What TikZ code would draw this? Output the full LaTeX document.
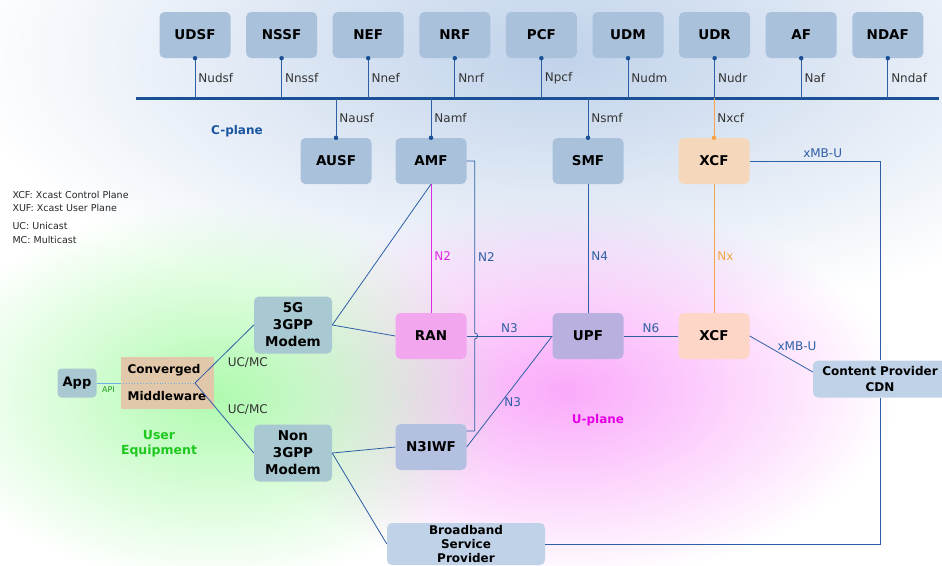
\documentclass[tikz,border=0pt]{standalone}
\usepackage{fontspec}
\setmainfont{DejaVu Sans}
\usepackage{tikz}
\usepackage{xcolor}
\usetikzlibrary{fadings}
\tikzfading[name=blobfade, inner color=transparent!0, outer color=transparent!100]
\definecolor{nfblue}{RGB}{170,193,220}
\definecolor{xcfctl}{RGB}{245,216,188}
\definecolor{xcfusr}{RGB}{253,214,200}
\definecolor{ranpink}{RGB}{242,166,238}
\definecolor{upfviolet}{RGB}{186,176,224}
\definecolor{iwfblue}{RGB}{180,192,224}
\definecolor{modemteal}{RGB}{168,200,210}
\definecolor{cdnblue}{RGB}{192,210,232}
\definecolor{mwtan}{RGB}{226,200,170}
\definecolor{ifblue}{RGB}{45,95,165}
\definecolor{busblue}{RGB}{25,80,150}
\definecolor{apiblue}{RGB}{110,175,225}
\definecolor{xorange}{RGB}{245,165,70}
\definecolor{n2pink}{RGB}{225,40,225}
\definecolor{uegreen}{RGB}{30,200,30}
\definecolor{cplane}{RGB}{25,85,160}
\definecolor{uplane}{RGB}{230,0,230}
\definecolor{bgblue}{RGB}{192,210,234}
\definecolor{bggreen}{RGB}{175,250,175}
\definecolor{bgpink}{RGB}{250,170,250}
\newcommand{\boxfont}{\fontsize{13.5}{17}\selectfont\bfseries}
\newcommand{\smallboxfont}{\fontsize{12}{14}\selectfont\bfseries}
\newcommand{\lblfont}{\fontsize{12}{14}\selectfont}
\newcommand{\legfont}{\fontsize{9.5}{13}\selectfont}
\tikzstyle{nf} = [rectangle,
                  rounded corners=5pt,
                  minimum width=71pt,
                  minimum height=46pt,
                  text centered,
                  fill=nfblue,
                  font=\boxfont]
\tikzstyle{modem} = [nf,
                     minimum width=78pt,
                     minimum height=57pt,
                     align=center,
                     fill=modemteal]
\tikzstyle{provider} = [nf,
                        align=center,
                        inner sep=1pt,
                        fill=cdnblue]
\tikzstyle{iface} = [draw=ifblue,
                     line width=0.8pt]
\tikzstyle{bus} = [draw=busblue,
                   line width=3pt]
\tikzstyle{stem} = [draw=ifblue,
                    line width=0.9pt]
\tikzstyle{dot} = [circle,
                   fill=busblue,
                   inner sep=0pt,
                   minimum size=4.5pt]
\tikzstyle{lbl} = [font=\lblfont,
                   text=black!80,
                   inner sep=3pt]
\tikzstyle{iflbl} = [lbl,
                     text=ifblue]
\begin{document}
\begin{tikzpicture}[node distance=86.6pt, x=1pt, y=-1pt]
    \useasboundingbox (0,0) rectangle (942,565);

    % background planes
    \fill [bgblue, path fading=blobfade] (560,55) ellipse [x radius=600pt, y radius=270pt];
    \fill [bgpink, path fading=blobfade] (565,390) ellipse [x radius=330pt, y radius=190pt];
    \fill [bggreen, path fading=blobfade] (215,395) ellipse [x radius=290pt, y radius=190pt];

    \node (udsf) [nf] at (195,35)   {UDSF};
    \node (nssf) [nf, right of=udsf] {NSSF};
    \node (nef)  [nf, right of=nssf] {NEF};
    \node (nrf)  [nf, right of=nef]  {NRF};
    \node (pcf)  [nf, right of=nrf]  {PCF};
    \node (udm)  [nf, right of=pcf]  {UDM};
    \node (udr)  [nf, right of=udm]  {UDR};
    \node (af)   [nf, right of=udr]  {AF};
    \node (ndaf) [nf, right of=af]   {NDAF};

    \node (ausf) [nf]                at (336,161) {AUSF};
    \node (amf)  [nf]                at (431,161) {AMF};
    \node (smf)  [nf]                at (588,161) {SMF};
    \node (xcfc) [nf, fill=xcfctl]   at (714,161) {XCF};

    \node (ran)   [nf, fill=ranpink]   at (431,336) {RAN};
    \node (upf)   [nf, fill=upfviolet] at (588,336) {UPF};
    \node (xcfu)  [nf, fill=xcfusr]    at (714,336) {XCF};
    \node (n3iwf) [nf, fill=iwfblue]   at (431,447) {N3IWF};

    \node (modemg) [modem] at (293,325) {5G\\3GPP\\Modem};
    \node (modemn) [modem] at (293,453) {Non\\3GPP\\Modem};

    \node (cdn) [provider, minimum width=134pt, minimum height=37pt,
                 font=\fontsize{12}{16}\selectfont\bfseries] at (880,379) {Content Provider\\CDN};
    \node (bsp) [provider, minimum width=158pt, minimum height=42pt,
                 font=\smallboxfont] at (466,544) {Broadband\\Service\\Provider};

    \node (mw)  [rectangle, fill=mwtan, minimum width=93pt, minimum height=52pt, inner sep=2pt,
                 align=left, font=\fontsize{12}{27}\selectfont\bfseries] at (167,383) {Converged\\Middleware};
    \node (app) [nf, fill=modemteal, rounded corners=4pt, minimum width=39pt, minimum height=29pt,
                 font=\fontsize{13}{15}\selectfont\bfseries] at (77,383) {App};
    \coordinate (fork) at (195,383);

    \node (cpl) [font=\fontsize{12}{14}\selectfont\bfseries, text=cplane] at (237,131) {C-plane};
    \node (upl) [font=\fontsize{12}{14}\selectfont\bfseries, text=uplane] at (598,420) {U-plane};
    \node (ue)  [font=\fontsize{12.5}{15}\selectfont\bfseries, text=uegreen, align=center] at (159,444) {User\\Equipment};
    \node (legx) [anchor=north west, align=left, font=\legfont, text=black!85] at (9,188)
        {XCF: Xcast Control Plane\\XUF: Xcast User Plane};
    \node (legc) [anchor=north west, align=left, font=\fontsize{9.5}{14}\selectfont, text=black!85] at (9,219)
        {UC: Unicast\\MC: Multicast};

    % C-plane bus
    \coordinate (busw) at (136,98);
    \coordinate (buse) at (939,98);
    \draw [bus] (busw) -- (buse);
    \foreach \nfn/\lab in {udsf/Nudsf, nssf/Nnssf, nef/Nnef, nrf/Nnrf, pcf/Npcf,
                           udm/Nudm, udr/Nudr, af/Naf, ndaf/Nndaf} {
        \draw [stem] (\nfn.south) -- node[lbl, right] {\lab} (\nfn.south |- busw);
        \node (dot\nfn) [dot] at (\nfn.south) {};
    }
    \foreach \nfn/\lab in {ausf/Nausf, amf/Namf, smf/Nsmf} {
        \draw [stem] (\nfn.north |- busw) -- node[lbl, right] {\lab} (\nfn.north);
        \node (dot\nfn) [dot] at (\nfn.north) {};
    }
    \draw [stem, draw=xorange] (xcfc.north |- busw) -- node[lbl, right] {Nxcf} (xcfc.north);
    \node (dotxcfc) [dot, fill=xorange] at (xcfc.north) {};

    % user equipment
    \draw [apiblue, line width=0.8pt] (app.east) -- node[below, font=\fontsize{8}{9}\selectfont, text=uegreen!80!black] {API} (mw.west);
    \draw [apiblue, dotted, line width=0.8pt] (mw.west) -- (fork);
    \draw [iface] (fork) -- node[lbl, below right] {UC/MC} (modemg.west);
    \draw [iface] (fork) -- node[lbl, above right] {UC/MC} (modemn.west);

    % access and core
    \draw [iface] (modemg.east) -- (amf.south);
    \draw [iface] (modemg.east) -- (ran.west);
    \draw [iface] (modemn.east) -- (n3iwf.west);
    \draw [iface] (modemn.east) -- (bsp.west);
    \draw [iface, draw=n2pink] (amf.south) -- node[lbl, right, text=n2pink, pos=0.56] {N2} (ran.north);
    \draw [iface] (amf.east) -- ++(8,0) -- node[iflbl, right, pos=0.56] {N2} ++(0,172)
        arc [start angle=90, end angle=-90, radius=3pt] |- ([yshift=16pt]n3iwf.east);
    \draw [iface] (ran.east) -- node[iflbl, above] {N3} (upf.west);
    \draw [iface] (n3iwf.east) -- node[iflbl, right, pos=0.4] {N3} (upf.west);
    \draw [iface] (smf.south) -- node[iflbl, right, pos=0.56] {N4} (upf.north);
    \draw [iface] (upf.east) -- node[iflbl, above] {N6} (xcfu.west);
    \draw [iface, draw=xorange] (xcfc.south) -- node[lbl, right, text=xorange, pos=0.56] {Nx} (xcfu.north);
    \draw [iface] (xcfu.east) -- node[iflbl, above=9pt, pos=0.75] {xMB-U} ([yshift=7pt]cdn.west);
    \draw [iface] (xcfc.east) -| node[iflbl, above, pos=0.28] {xMB-U} (cdn.north);
    \draw [iface] (cdn.south) |- (bsp.east);

  \end{tikzpicture}
\end{document}
